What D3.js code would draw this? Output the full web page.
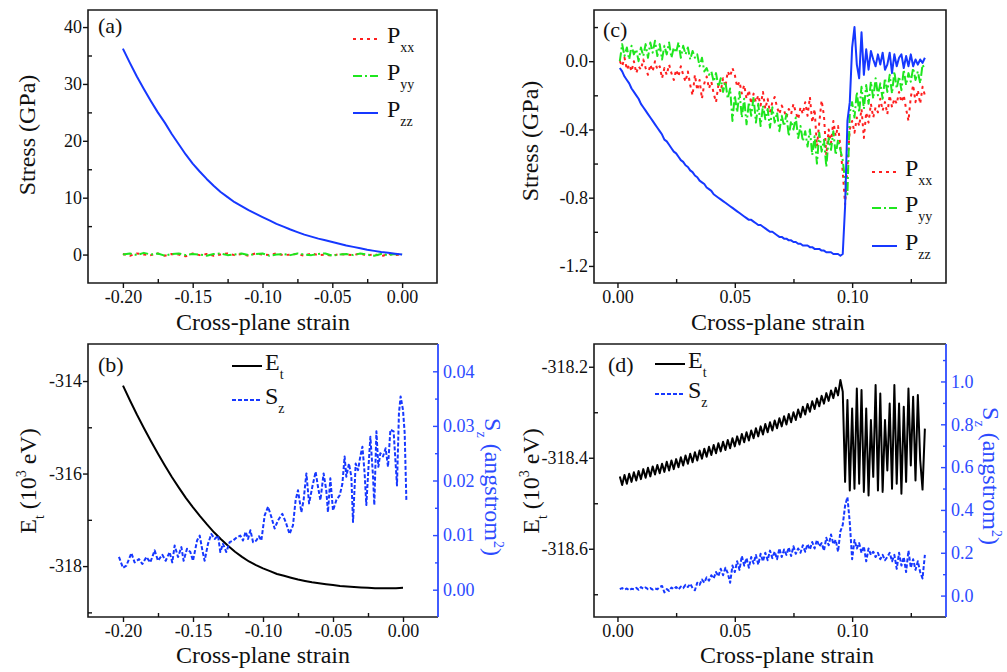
<!DOCTYPE html>
<html>
<head>
<meta charset="utf-8">
<title>Stress and energy vs cross-plane strain</title>
<script src="https://cdn.jsdelivr.net/npm/d3@7"></script>
<style>
  html, body { margin: 0; padding: 0; background: #fff; }
  svg { display: block; }
  svg text { font-family: 'Liberation Serif'; }
</style>
</head>
<body>
<script>
// ---- panels (a) and (b): compression, strain -0.20 .. 0.00
var strainAB = [-0.2, -0.195, -0.19, -0.185, -0.18, -0.175, -0.17, -0.165, -0.16, -0.155,
    -0.15, -0.145, -0.14, -0.135, -0.13, -0.125, -0.12, -0.115, -0.11, -0.105,
    -0.1, -0.095, -0.09, -0.085, -0.08, -0.075, -0.07, -0.065, -0.06, -0.055,
    -0.05, -0.045, -0.04, -0.035, -0.03, -0.025, -0.02, -0.015, -0.01, -0.005, 0];

var pxxA = [0.1, -0.2, 0.2, 0, -0.1, 0.2, -0.2, 0.1, 0, -0.3, 0.2, -0.1, 0.1, -0.2, 0, 0.2, -0.1, 0.1, -0.2, 0.2,
    0, -0.1, 0.2, -0.1, 0, 0.1, -0.2, 0.2, -0.1, 0, -0.2, 0.1, 0, -0.1, 0.2, -0.2, 0.1, -0.3, 0.1, -0.1, 0];
var pyyA = [0, 0.2, -0.1, 0.3, 0, 0.2, -0.2, 0.1, 0.2, -0.1, 0.1, 0, -0.2, 0.1, 0.2, -0.1, 0, 0.2, -0.1, 0.1,
    0.2, -0.2, 0, 0.1, -0.1, 0.2, 0, -0.1, 0.1, 0.2, -0.2, 0, 0.1, -0.1, 0.2, 0, -0.2, 0.1, -0.1, 0.1, 0];
var pzzA = [36.2, 33.7, 31.3, 29.1, 27.0, 25.0, 23.2, 21.2, 19.4, 17.6,
    16.0, 14.6, 13.3, 12.1, 11.0, 10.1, 9.2, 8.5, 7.8, 7.2,
    6.6, 6.0, 5.4, 4.9, 4.4, 3.95, 3.5, 3.15, 2.8, 2.5,
    2.2, 1.9, 1.6, 1.35, 1.1, 0.85, 0.65, 0.45, 0.3, 0.15, 0];

var etB = [-314.10, -314.42, -314.73, -315.02, -315.30, -315.57, -315.83, -316.08, -316.31, -316.53,
    -316.73, -316.92, -317.10, -317.27, -317.42, -317.56, -317.69, -317.80, -317.90, -317.98,
    -318.05, -318.11, -318.17, -318.21, -318.25, -318.29, -318.32, -318.35, -318.37, -318.39,
    -318.41, -318.43, -318.44, -318.45, -318.46, -318.47, -318.48, -318.48, -318.48, -318.48, -318.47];

var szStrainB = [-0.2029, -0.2, -0.1976, -0.194, -0.1917, -0.1886, -0.1862, -0.1833, -0.1805, -0.1774,
    -0.175, -0.1719, -0.1695, -0.1667, -0.1648, -0.1631, -0.1607, -0.1583, -0.1567, -0.1543,
    -0.1519, -0.15, -0.1471, -0.1452, -0.1433, -0.1417, -0.1393, -0.1369, -0.1345, -0.1321,
    -0.1305, -0.1286, -0.1262, -0.1238, -0.1214, -0.1186, -0.1162, -0.1143, -0.1124, -0.1107,
    -0.109, -0.1071, -0.1048, -0.1029, -0.1012, -0.0988, -0.0964, -0.094, -0.0917, -0.0893,
    -0.0862, -0.0838, -0.081, -0.0786, -0.0767, -0.075, -0.0726, -0.071, -0.069, -0.0671,
    -0.0648, -0.0624, -0.0607, -0.059, -0.0567, -0.0548, -0.0536, -0.0519, -0.05, -0.0476,
    -0.0452, -0.0433, -0.0417, -0.0405, -0.0386, -0.0369, -0.0357, -0.0338, -0.0321, -0.0305,
    -0.029, -0.0274, -0.0262, -0.0245, -0.0233, -0.0214, -0.0205, -0.019, -0.0176, -0.0162,
    -0.0143, -0.0124, -0.0107, -0.009, -0.0067, -0.0043, -0.0029, -0.0017, 0, 0.0012, 0.0024];
var szB = [0.0060, 0.0040, 0.0044, 0.0067, 0.0050, 0.0056, 0.0047, 0.0060, 0.0050, 0.0072,
    0.0053, 0.0064, 0.0053, 0.0069, 0.0050, 0.0081, 0.0060, 0.0078, 0.0053, 0.0075,
    0.0069, 0.0053, 0.0090, 0.0099, 0.0072, 0.0053, 0.0084, 0.0102, 0.0093, 0.0099,
    0.0069, 0.0084, 0.0069, 0.0087, 0.0090, 0.0096, 0.0099, 0.0090, 0.0106, 0.0093,
    0.0109, 0.0087, 0.0090, 0.0098, 0.0090, 0.0136, 0.0152, 0.0133, 0.0112, 0.0127,
    0.0139, 0.0124, 0.0102, 0.0118, 0.0164, 0.0182, 0.0142, 0.0164, 0.0213, 0.0158,
    0.0188, 0.0216, 0.0188, 0.0164, 0.0213, 0.0182, 0.0142, 0.0204, 0.0145, 0.0164,
    0.0173, 0.0194, 0.0244, 0.0207, 0.0231, 0.0207, 0.0124, 0.0231, 0.0219, 0.0244,
    0.0262, 0.0213, 0.0155, 0.0231, 0.0280, 0.0207, 0.0155, 0.0290, 0.0225, 0.0250,
    0.0244, 0.0259, 0.0225, 0.0293, 0.0290, 0.0191, 0.0323, 0.0354, 0.0329, 0.0287, 0.0164];

// ---- panels (c) and (d): tension, strain 0.001 .. 0.131
var strainCD = [0.001, 0.002, 0.003, 0.004, 0.005, 0.006, 0.007, 0.008, 0.009, 0.010,
    0.011, 0.012, 0.013, 0.014, 0.015, 0.016, 0.017, 0.018, 0.019, 0.020,
    0.021, 0.022, 0.023, 0.024, 0.025, 0.026, 0.027, 0.028, 0.029, 0.030,
    0.031, 0.032, 0.033, 0.034, 0.035, 0.036, 0.037, 0.038, 0.039, 0.040,
    0.041, 0.042, 0.043, 0.044, 0.045, 0.046, 0.047, 0.048, 0.049, 0.050,
    0.051, 0.052, 0.053, 0.054, 0.055, 0.056, 0.057, 0.058, 0.059, 0.060,
    0.061, 0.062, 0.063, 0.064, 0.065, 0.066, 0.067, 0.068, 0.069, 0.070,
    0.071, 0.072, 0.073, 0.074, 0.075, 0.076, 0.077, 0.078, 0.079, 0.080,
    0.081, 0.082, 0.083, 0.084, 0.085, 0.086, 0.087, 0.088, 0.089, 0.090,
    0.091, 0.092, 0.093, 0.094, 0.095, 0.096, 0.097, 0.098, 0.099, 0.100,
    0.101, 0.102, 0.103, 0.104, 0.105, 0.106, 0.107, 0.108, 0.109, 0.110,
    0.111, 0.112, 0.113, 0.114, 0.115, 0.116, 0.117, 0.118, 0.119, 0.120,
    0.121, 0.122, 0.123, 0.124, 0.125, 0.126, 0.127, 0.128, 0.129, 0.130,
    0.131];

var pxxC = [0.00, -0.03, 0.02, -0.05, -0.02, -0.06, 0.00, -0.07, -0.03, -0.05,
    0.01, -0.04, -0.08, -0.02, -0.06, 0.00, -0.05, -0.03, -0.10, -0.04,
    -0.08, -0.02, -0.07, -0.11, -0.05, -0.09, -0.03, -0.08, -0.12, -0.06,
    -0.14, -0.20, -0.08, -0.17, -0.11, -0.22, -0.13, -0.09, -0.16, -0.12,
    -0.19, -0.24, -0.14, -0.18, -0.10, -0.15, -0.06, -0.09, -0.04, -0.08,
    -0.15, -0.12, -0.19, -0.14, -0.22, -0.17, -0.25, -0.19, -0.24, -0.20,
    -0.26, -0.18, -0.28, -0.22, -0.30, -0.24, -0.21, -0.27, -0.31, -0.26,
    -0.29, -0.33, -0.28, -0.31, -0.25, -0.30, -0.34, -0.27, -0.31, -0.24,
    -0.32, -0.21, -0.36, -0.28, -0.50, -0.36, -0.23, -0.32, -0.55, -0.40,
    -0.48, -0.35, -0.44, -0.38, -0.50, -0.65, -0.84, -0.62, -0.40, -0.35,
    -0.42, -0.33, -0.38, -0.28, -0.45, -0.30, -0.36, -0.25, -0.33, -0.27,
    -0.30, -0.22, -0.29, -0.24, -0.31, -0.20, -0.27, -0.22, -0.25, -0.18,
    -0.24, -0.20, -0.28, -0.35, -0.21, -0.14, -0.24, -0.17, -0.25, -0.15,
    -0.20];
var pyyC = [0.00, 0.10, 0.03, 0.08, 0.01, 0.09, 0.04, 0.07, 0.00, 0.08,
    0.03, 0.10, 0.02, 0.11, 0.05, 0.12, 0.03, 0.10, 0.01, 0.09,
    0.04, 0.11, 0.02, 0.08, 0.05, 0.11, 0.02, 0.09, 0.04, 0.08,
    0.01, 0.06, 0.02, 0.04, -0.03, 0.02, -0.06, -0.04, -0.08, -0.06,
    -0.12, -0.07, -0.15, -0.10, -0.18, -0.12, -0.22, -0.16, -0.35, -0.20,
    -0.30, -0.18, -0.33, -0.22, -0.37, -0.24, -0.32, -0.21, -0.36, -0.25,
    -0.38, -0.26, -0.34, -0.28, -0.39, -0.27, -0.36, -0.30, -0.41, -0.32,
    -0.38, -0.31, -0.44, -0.35, -0.40, -0.33, -0.45, -0.38, -0.47, -0.41,
    -0.50, -0.40, -0.55, -0.44, -0.60, -0.42, -0.53, -0.46, -0.62, -0.45,
    -0.52, -0.41, -0.55, -0.46, -0.52, -0.58, -0.70, -0.78, -0.30, -0.24,
    -0.33, -0.18, -0.30, -0.15, -0.28, -0.14, -0.25, -0.12, -0.22, -0.10,
    -0.20, -0.13, -0.22, -0.10, -0.18, -0.08, -0.19, -0.06, -0.16, -0.09,
    -0.17, -0.05, -0.14, -0.07, -0.12, -0.04, -0.11, -0.06, -0.13, -0.02,
    -0.05];
var pzzC = [-0.04, -0.06, -0.09, -0.11, -0.13, -0.16, -0.18, -0.20, -0.22, -0.25,
    -0.27, -0.29, -0.31, -0.33, -0.35, -0.37, -0.39, -0.41, -0.43, -0.46,
    -0.47, -0.49, -0.51, -0.53, -0.54, -0.56, -0.58, -0.59, -0.61, -0.62,
    -0.64, -0.65, -0.67, -0.68, -0.70, -0.71, -0.72, -0.74, -0.75, -0.76,
    -0.78, -0.79, -0.80, -0.81, -0.82, -0.83, -0.84, -0.85, -0.86, -0.87,
    -0.88, -0.89, -0.90, -0.91, -0.92, -0.93, -0.93, -0.94, -0.95, -0.96,
    -0.96, -0.97, -0.98, -0.99, -1.00, -1.00, -1.01, -1.02, -1.03, -1.03,
    -1.04, -1.04, -1.05, -1.05, -1.06, -1.06, -1.07, -1.07, -1.08, -1.08,
    -1.08, -1.09, -1.09, -1.10, -1.10, -1.10, -1.11, -1.11, -1.12, -1.12,
    -1.12, -1.13, -1.13, -1.13, -1.14, -1.13, -0.85, -0.35, -0.24, 0.08,
    0.20, -0.02, -0.10, 0.17, -0.08, 0.07, -0.05, 0.06, 0.01, -0.03,
    0.04, -0.02, 0.05, -0.05, -0.02, 0.05, -0.07, 0.04, -0.03, 0.02,
    0.04, -0.04, 0.03, -0.03, 0.04, -0.03, 0.01, -0.02, 0.01, -0.01,
    0.02];

var etD = [-318.441, -318.460, -318.438, -318.457, -318.435, -318.453, -318.432, -318.450, -318.429, -318.447,
    -318.425, -318.444, -318.422, -318.441, -318.419, -318.437, -318.416, -318.434, -318.413, -318.431,
    -318.409, -318.428, -318.406, -318.425, -318.403, -318.421, -318.399, -318.417, -318.395, -318.413,
    -318.391, -318.410, -318.388, -318.406, -318.384, -318.402, -318.380, -318.398, -318.376, -318.394,
    -318.372, -318.390, -318.368, -318.386, -318.365, -318.383, -318.361, -318.379, -318.357, -318.375,
    -318.353, -318.371, -318.348, -318.366, -318.344, -318.362, -318.340, -318.357, -318.335, -318.353,
    -318.331, -318.349, -318.326, -318.344, -318.322, -318.340, -318.318, -318.335, -318.313, -318.331,
    -318.309, -318.327, -318.304, -318.322, -318.300, -318.317, -318.294, -318.311, -318.288, -318.305,
    -318.282, -318.299, -318.276, -318.293, -318.270, -318.287, -318.264, -318.281, -318.258, -318.275,
    -318.252, -318.269, -318.246, -318.263, -318.229, -318.255, -318.453, -318.273, -318.472, -318.292,
    -318.468, -318.248, -318.457, -318.251, -318.475, -318.292, -318.483, -318.317, -318.442, -318.240,
    -318.472, -318.259, -318.475, -318.317, -318.428, -318.281, -318.468, -318.240, -318.457, -318.281,
    -318.479, -318.288, -318.453, -318.248, -318.417, -318.266, -318.450, -318.262, -318.405, -318.470,
    -318.336];
var szD = [0.030, 0.035, 0.028, 0.033, 0.025, 0.032, 0.030, 0.036, 0.027, 0.040,
    0.032, 0.038, 0.030, 0.035, 0.028, 0.033, 0.030, 0.040, 0.045, 0.015,
    0.030, 0.022, 0.038, 0.030, 0.040, 0.028, 0.042, 0.035, 0.050, 0.040,
    0.055, 0.035, 0.025, 0.060, 0.050, 0.075, 0.060, 0.085, 0.070, 0.095,
    0.080, 0.110, 0.090, 0.125, 0.095, 0.130, 0.105, 0.060, 0.140, 0.110,
    0.160, 0.120, 0.185, 0.140, 0.175, 0.130, 0.180, 0.150, 0.190, 0.145,
    0.195, 0.160, 0.200, 0.165, 0.210, 0.175, 0.205, 0.170, 0.220, 0.180,
    0.215, 0.190, 0.225, 0.185, 0.230, 0.195, 0.220, 0.200, 0.235, 0.205,
    0.240, 0.215, 0.250, 0.220, 0.260, 0.230, 0.245, 0.210, 0.270, 0.235,
    0.285, 0.240, 0.260, 0.205, 0.300, 0.330, 0.420, 0.460, 0.340, 0.170,
    0.260, 0.220, 0.245, 0.200, 0.230, 0.160, 0.220, 0.190, 0.205, 0.180,
    0.200, 0.170, 0.190, 0.165, 0.180, 0.200, 0.160, 0.190, 0.125, 0.200,
    0.140, 0.180, 0.110, 0.210, 0.130, 0.170, 0.120, 0.160, 0.110, 0.080,
    0.190];

// ---- tick values
var xTicksAB = [-0.2, -0.15, -0.1, -0.05, 0], xMinorAB = [-0.175, -0.125, -0.075, -0.025];
var xTicksCD = [0, 0.05, 0.1], xMinorCD = [0.025, 0.075, 0.125];
var yTicksA = [0, 10, 20, 30, 40], yMinorA = [5, 15, 25, 35];
var yTicksB = [-318, -316, -314], yMinorB = [-319, -317, -315];
var y2TicksB = [0, 0.01, 0.02, 0.03, 0.04], y2MinorB = [0.005, 0.015, 0.025, 0.035];
var yTicksC = [-1.2, -0.8, -0.4, 0], yMinorC = [-1.0, -0.6, -0.2, 0.2];
var yTicksD = [-318.6, -318.4, -318.2], yMinorD = [-318.7, -318.5, -318.3];
var y2TicksD = [0, 0.2, 0.4, 0.6, 0.8, 1.0], y2MinorD = [0.1, 0.3, 0.5, 0.7, 0.9, 1.1];

var RED = "#ff1f1f", GREEN = "#1ee61e", BLUE = "#1638ff", AXBLUE = "#2d4bff";
var FONT = "'Liberation Serif'";

var svg = d3.select("body").append("svg")
    .attr("width", 1007)
    .attr("height", 672);
svg.append("rect").attr("width", 1007).attr("height", 672).attr("fill", "#fff");

function fixed(n) { return function (d) { return d.toFixed(n); }; }

function pairs(xs, ys) {
    var n = Math.min(xs.length, ys.length), out = [];
    for (var i = 0; i < n; i++) out.push([xs[i], ys[i]]);
    return out;
}

function styleAxis(g, color) {
    g.select(".domain").remove();
    g.attr("font-size", 18).attr("font-family", null).attr("color", color || "#111");
    g.selectAll("text").style("font-family", FONT);
    g.selectAll(".tick line").attr("stroke-width", 1.4);
}

function panelBox(id, box, xDom, yDom) {
    var x = d3.scaleLinear().domain(xDom).range([box.l, box.r]);
    var y = d3.scaleLinear().domain(yDom).range([box.b, box.t]);
    svg.append("clipPath").attr("id", "clip-" + id)
        .append("rect").attr("x", box.l).attr("y", box.t)
        .attr("width", box.r - box.l).attr("height", box.b - box.t);
    return { x: x, y: y, box: box, clip: "url(#clip-" + id + ")" };
}

function axesBL(p, xt, xm, xf, yt, ym, yf) {
    var b = p.box;
    var g1 = svg.append("g").attr("transform", "translate(0," + b.b + ")")
        .call(d3.axisBottom(p.x).tickValues(xt).tickFormat(xf).tickSizeInner(5).tickSizeOuter(0).tickPadding(2));
    styleAxis(g1);
    var g2 = svg.append("g").attr("transform", "translate(0," + b.b + ")")
        .call(d3.axisBottom(p.x).tickValues(xm).tickFormat("").tickSize(-4));
    styleAxis(g2);
    var g3 = svg.append("g").attr("transform", "translate(" + b.l + ",0)")
        .call(d3.axisLeft(p.y).tickValues(yt).tickFormat(yf).tickSizeInner(5).tickSizeOuter(0).tickPadding(1));
    styleAxis(g3);
    var g4 = svg.append("g").attr("transform", "translate(" + b.l + ",0)")
        .call(d3.axisLeft(p.y).tickValues(ym).tickFormat("").tickSize(-4));
    styleAxis(g4);
}

function axisR(p, y2, yt, ym, yf) {
    var b = p.box;
    var g1 = svg.append("g").attr("transform", "translate(" + b.r + ",0)")
        .call(d3.axisRight(y2).tickValues(yt).tickFormat(yf).tickSize(-5).tickPadding(5));
    styleAxis(g1, AXBLUE);
    var g2 = svg.append("g").attr("transform", "translate(" + b.r + ",0)")
        .call(d3.axisRight(y2).tickValues(ym).tickFormat("").tickSize(-3));
    styleAxis(g2, AXBLUE);
    svg.append("line").attr("x1", b.r).attr("x2", b.r).attr("y1", b.t).attr("y2", b.b)
        .attr("stroke", AXBLUE).attr("stroke-width", 1.8);
}

function frame(p, blueRight) {
    var b = p.box;
    svg.append("path")
        .attr("d", "M" + b.r + "," + b.t + "H" + b.l + "V" + b.b + "H" + b.r + (blueRight ? "" : "Z"))
        .attr("fill", "none").attr("stroke", "#1a1a1a").attr("stroke-width", 1.6);
}

function series(p, data, ys, color, dash, width) {
    var line = d3.line().x(function (d) { return p.x(d[0]); }).y(function (d) { return ys(d[1]); });
    svg.append("path")
        .datum(data)
        .attr("clip-path", p.clip)
        .attr("d", line)
        .attr("fill", "none")
        .attr("stroke", color)
        .attr("stroke-width", width || 2)
        .attr("stroke-linejoin", "round")
        .attr("stroke-dasharray", dash || null);
}

function label(x, y, size, color) {
    return svg.append("text").attr("x", x).attr("y", y)
        .style("font-family", FONT).attr("font-size", size).attr("fill", color || "#111");
}

function legendItem(x1, x2, y, color, dash, main, sub, tx) {
    svg.append("line").attr("x1", x1).attr("x2", x2).attr("y1", y).attr("y2", y)
        .attr("stroke", color).attr("stroke-width", 2).attr("stroke-dasharray", dash || null);
    var t = label(tx, y + 4, 24);
    t.append("tspan").text(main);
    t.append("tspan").attr("font-size", 14).attr("dy", 9).text(sub);
}

function xTitle(cx, y) {
    label(cx, y, 24).attr("text-anchor", "middle").text("Cross-plane strain");
}

function panelLabel(x, y, s) {
    label(x, y, 22).text(s);
}

function rotated(x, y, angle, color) {
    return label(0, 0, 24, color).attr("transform", "translate(" + x + "," + y + ") rotate(" + angle + ")")
        .attr("text-anchor", "middle");
}

function stressTitle(x, y) {
    rotated(x, y, -90).text("Stress (GPa)");
}

function energyTitle(x, y) {
    var t = rotated(x, y, -90);
    t.append("tspan").text("E");
    t.append("tspan").attr("font-size", 14).attr("dy", 8).text("t");
    t.append("tspan").attr("dy", -8).text(" (10");
    t.append("tspan").attr("font-size", 14).attr("dy", -10).text("3");
    t.append("tspan").attr("dy", 10).text(" eV)");
}

function szTitle(x, y) {
    var t = rotated(x, y, 90, AXBLUE);
    t.append("tspan").text("S");
    t.append("tspan").attr("font-size", 14).attr("dy", 8).text("z");
    t.append("tspan").attr("dy", -8).text(" (angstrom");
    t.append("tspan").attr("font-size", 14).attr("dy", -9).text("2");
    t.append("tspan").attr("dy", 9).text(")");
}

var DOT = "3,4", DASHDOT = "9,3,2,3", DASH = "4,2";

// ---------- (a)
var pa = panelBox("a", { l: 88, t: 10, r: 437, b: 283 }, [-0.225, 0.025], [-5, 43]);
series(pa, pairs(strainAB, pxxA), pa.y, RED, DOT, 2);
series(pa, pairs(strainAB, pyyA), pa.y, GREEN, DASHDOT, 2);
series(pa, pairs(strainAB, pzzA), pa.y, BLUE, null, 2);
frame(pa);
axesBL(pa, xTicksAB, xMinorAB, fixed(2), yTicksA, yMinorA, fixed(0));
panelLabel(98, 33, "(a)");
legendItem(353, 378, 39, RED, DOT, "P", "xx", 387);
legendItem(353, 378, 76, GREEN, DASHDOT, "P", "yy", 387);
legendItem(353, 378, 113, BLUE, null, "P", "zz", 387);
stressTitle(35, 135);
xTitle(263, 330);

// ---------- (b)
var pb = panelBox("b", { l: 88, t: 344, r: 438, b: 617 }, [-0.225, 0.025], [-319.1, -313.2]);
var yb2 = d3.scaleLinear().domain([-0.005, 0.045]).range([617, 344]);
series(pb, pairs(strainAB, etB), pb.y, "#000", null, 2);
series(pb, pairs(szStrainB, szB), yb2, BLUE, DASH, 2);
frame(pb, true);
axesBL(pb, xTicksAB, xMinorAB, fixed(2), yTicksB, yMinorB, fixed(0));
axisR(pb, yb2, y2TicksB, y2MinorB, fixed(2));
panelLabel(98, 372, "(b)");
legendItem(232, 262, 366, "#000", null, "E", "t", 265);
legendItem(232, 262, 400, BLUE, DASH, "S", "z", 265);
energyTitle(36, 481);
szTitle(485, 487);
xTitle(263, 663);

// ---------- (c)
var pc = panelBox("c", { l: 594, t: 10, r: 946, b: 283 }, [-0.01, 0.14], [-1.3, 0.3]);
series(pc, pairs(strainCD, pxxC), pc.y, RED, DOT, 2);
series(pc, pairs(strainCD, pyyC), pc.y, GREEN, DASHDOT, 2);
series(pc, pairs(strainCD, pzzC), pc.y, BLUE, null, 2);
frame(pc);
axesBL(pc, xTicksCD, xMinorCD, fixed(2), yTicksC, yMinorC, fixed(1));
panelLabel(603, 37, "(c)");
legendItem(872, 897, 172, RED, DOT, "P", "xx", 905);
legendItem(872, 897, 208, GREEN, DASHDOT, "P", "yy", 905);
legendItem(872, 897, 246, BLUE, null, "P", "zz", 905);
stressTitle(538, 141);
xTitle(778, 330);

// ---------- (d)
var pd = panelBox("d", { l: 594, t: 344, r: 946, b: 617 }, [-0.01, 0.14], [-318.75, -318.15]);
var yd2 = d3.scaleLinear().domain([-0.1, 1.175]).range([617, 344]);
series(pd, pairs(strainCD, etD), pd.y, "#000", null, 2);
series(pd, pairs(strainCD, szD), yd2, BLUE, DASH, 2);
frame(pd, true);
axesBL(pd, xTicksCD, xMinorCD, fixed(2), yTicksD, yMinorD, fixed(1));
axisR(pd, yd2, y2TicksD, y2MinorD, fixed(1));
panelLabel(608, 372, "(d)");
legendItem(655, 685, 364, "#000", null, "E", "t", 688);
legendItem(655, 685, 394, BLUE, DASH, "S", "z", 688);
energyTitle(539, 481);
szTitle(983, 476);
xTitle(787, 663);
</script>
</body>
</html>
